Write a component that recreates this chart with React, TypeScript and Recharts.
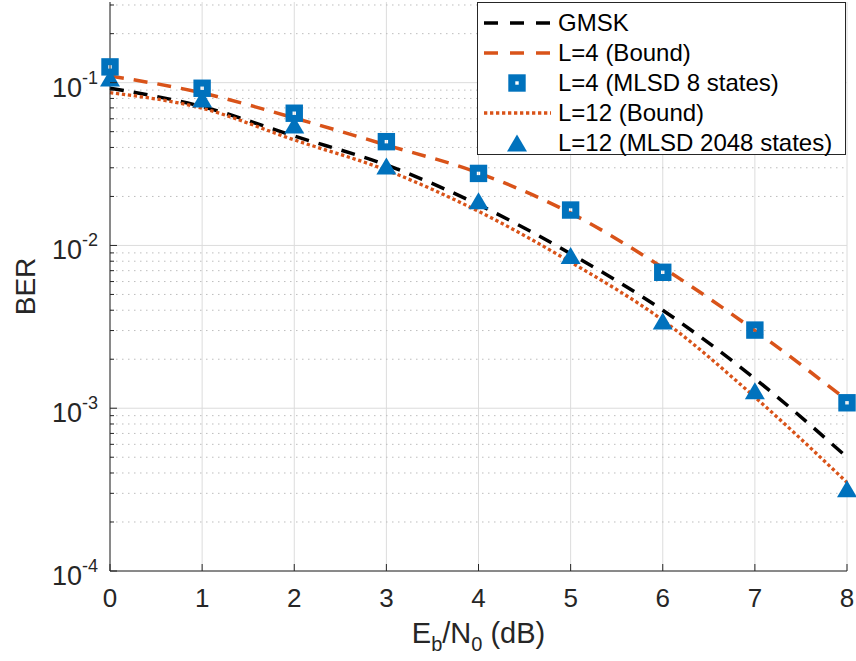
import {
  CartesianGrid,
  Legend,
  Line,
  LineChart,
  ReferenceLine,
  XAxis,
  YAxis,
} from "recharts";

const ebn0 = [0, 1, 2, 3, 4, 5, 6, 7, 8];
const gmsk = [0.0924, 0.0713, 0.047, 0.0312, 0.0178, 0.0089, 0.004, 0.00152, 0.0005];
const l4Bound = [0.11, 0.0865, 0.0607, 0.0414, 0.0279, 0.0158, 0.0073, 0.003, 0.00112];
const l4Mlsd = [0.125, 0.0924, 0.0649, 0.0434, 0.0277, 0.0165, 0.00684, 0.00302, 0.00108];
const l12Bound = [0.0868, 0.0696, 0.0445, 0.029, 0.0162, 0.0079, 0.00347, 0.00117, 0.00035];
const l12Mlsd = [0.107, 0.0794, 0.0549, 0.0308, 0.0188, 0.00867, 0.00343, 0.00128, 0.00032];

const xTicks = [0, 1, 2, 3, 4, 5, 6, 7, 8];
const decades = [1e-4, 1e-3, 1e-2, 1e-1];
const decadeExp = ["-4", "-3", "-2", "-1"];
const minorTicks = [
  2e-4, 3e-4, 4e-4, 5e-4, 6e-4, 7e-4, 8e-4, 9e-4,
  2e-3, 3e-3, 4e-3, 5e-3, 6e-3, 7e-3, 8e-3, 9e-3,
  2e-2, 3e-2, 4e-2, 5e-2, 6e-2, 7e-2, 8e-2, 9e-2,
  2e-1, 3e-1,
];
const yTicks = [...decades, ...minorTicks];

const legendNames = [
  "GMSK",
  "L=4 (Bound)",
  "L=4 (MLSD 8 states)",
  "L=12 (Bound)",
  "L=12 (MLSD 2048 states)",
];

const rows = ebn0.map((x, i) => ({
  x,
  gmsk: gmsk[i],
  l4Bound: l4Bound[i],
  l4Mlsd: l4Mlsd[i],
  l12Bound: l12Bound[i],
  l12Mlsd: l12Mlsd[i],
}));

const FONT = "'Liberation Sans', Arial, Helvetica, sans-serif";
const AXIS = "#262626";
const BLUE = "#0072BD";
const ORANGE = "#D95319";

const isMajor = (v: number) => decades.some((d) => Math.abs(d - v) / d < 1e-6);

function LeftTick(props: any) {
  const { x, y, payload } = props;
  const v = payload.value;
  const major = isMajor(v);
  const idx = decades.findIndex((d) => Math.abs(d - v) / d < 1e-6);
  return (
    <g>
      <line x1={x} x2={x + (major ? 7 : 4)} y1={y} y2={y} stroke={AXIS} strokeWidth={1} />
      {major && (
        <text x={x - 12} y={y + 14} textAnchor="end" fill={AXIS} fontFamily={FONT} fontSize={27}>
          <tspan>10</tspan>
          <tspan dy={-13} fontSize={18}>{decadeExp[idx]}</tspan>
        </text>
      )}
    </g>
  );
}

function RightTick(props: any) {
  const { x, y, payload } = props;
  const major = isMajor(payload.value);
  return <line x1={x} x2={x - (major ? 7 : 4)} y1={y} y2={y} stroke={AXIS} strokeWidth={1} />;
}

function BottomTick(props: any) {
  const { x, y, payload } = props;
  return (
    <g>
      <line x1={x} x2={x} y1={y} y2={y - 7} stroke={AXIS} strokeWidth={1} />
      <text x={x} y={y + 36} textAnchor="middle" fill={AXIS} fontFamily={FONT} fontSize={26}>
        {payload.value}
      </text>
    </g>
  );
}

function TopTick(props: any) {
  const { x, y } = props;
  return <line x1={x} x2={x} y1={y} y2={y + 7} stroke={AXIS} strokeWidth={1} />;
}

function XTitle(props: any) {
  const vb = props.viewBox || { x: 110, y: 571, width: 738 };
  return (
    <text x={vb.x + vb.width / 2} y={vb.y + 72} textAnchor="middle" fill={AXIS} fontFamily={FONT} fontSize={29}>
      <tspan>E</tspan>
      <tspan dy={8} fontSize={20}>b</tspan>
      <tspan dy={-8}>/N</tspan>
      <tspan dy={8} fontSize={20}>0</tspan>
      <tspan dy={-8}> (dB)</tspan>
    </text>
  );
}

function YTitle(props: any) {
  const vb = props.viewBox || { x: 0, y: 2, height: 569 };
  const cx = 35;
  const cy = vb.y + vb.height / 2;
  return (
    <text
      x={cx}
      y={cy}
      transform={`rotate(-90, ${cx}, ${cy})`}
      textAnchor="middle"
      fill={AXIS}
      fontFamily={FONT}
      fontSize={28}
    >
      BER
    </text>
  );
}

function SquareDot(props: any) {
  const { cx, cy } = props;
  if (cx == null || cy == null) return null;
  return <rect x={cx - 5.2} y={cy - 5.2} width={10.4} height={10.4} fill="none" stroke={BLUE} strokeWidth={7} />;
}

function TriangleDot(props: any) {
  const { cx, cy } = props;
  if (cx == null || cy == null) return null;
  return <polygon points={`${cx},${cy - 8.5} ${cx - 10},${cy + 8.5} ${cx + 10},${cy + 8.5}`} fill={BLUE} />;
}

function LegendBox() {
  const rowY = (i: number) => 21 + i * 30;
  return (
    <svg width={370} height={154} style={{ display: "block" }}>
      <rect x={0.5} y={0.5} width={368} height={152} fill="#fff" stroke={AXIS} strokeWidth={1} />
      <line x1={7} x2={74} y1={rowY(0)} y2={rowY(0)} stroke="#000" strokeWidth={3.5} strokeDasharray="14 12" />
      <line x1={7} x2={74} y1={rowY(1)} y2={rowY(1)} stroke={ORANGE} strokeWidth={3.5} strokeDasharray="14 12" />
      <SquareDot cx={40} cy={rowY(2)} />
      <line x1={7} x2={74} y1={rowY(3)} y2={rowY(3)} stroke={ORANGE} strokeWidth={3.3} strokeDasharray="3.3 2.7" />
      <TriangleDot cx={40} cy={rowY(4)} />
      {legendNames.map((n, i) => (
        <text key={n} x={81} y={rowY(i) + 8} fill="#000" fontFamily={FONT} fontSize={24}>
          {n}
        </text>
      ))}
    </svg>
  );
}

export default function App() {
  return (
    <div style={{ position: "absolute", left: 0, top: 0, width: 856, height: 661, background: "#fff" }}>
      <LineChart width={856} height={661} data={rows} margin={{ top: 2, right: 9, bottom: 0, left: 0 }}>
        <CartesianGrid horizontal={false} vertical stroke="#dcdcdc" strokeWidth={1} />
        {minorTicks.map((v) => (
          <ReferenceLine key={`m${v}`} y={v} stroke="#bdbdbd" strokeWidth={1} strokeDasharray="1.5 4.5" />
        ))}
        {decades.map((v) => (
          <ReferenceLine key={`d${v}`} y={v} stroke="#dcdcdc" strokeWidth={1} />
        ))}
        <XAxis
          dataKey="x"
          type="number"
          domain={[0, 8]}
          ticks={xTicks}
          height={90}
          tickSize={0}
          tickMargin={0}
          tickLine={false}
          tick={<BottomTick />}
          axisLine={{ stroke: AXIS, strokeWidth: 1 }}
          interval={0}
          label={<XTitle />}
        />
        <XAxis
          xAxisId="top"
          orientation="top"
          dataKey="x"
          type="number"
          domain={[0, 8]}
          ticks={xTicks}
          height={0}
          tickSize={0}
          tickMargin={0}
          tickLine={false}
          tick={<TopTick />}
          axisLine={{ stroke: AXIS, strokeWidth: 1 }}
          interval={0}
        />
        <YAxis
          scale="log"
          type="number"
          domain={[1e-4, 0.313]}
          allowDataOverflow
          ticks={yTicks}
          width={110}
          tickSize={0}
          tickMargin={0}
          tickLine={false}
          tick={<LeftTick />}
          axisLine={{ stroke: AXIS, strokeWidth: 1 }}
          interval={0}
          label={<YTitle />}
        />
        <YAxis
          yAxisId="right"
          orientation="right"
          scale="log"
          type="number"
          domain={[1e-4, 0.313]}
          allowDataOverflow
          ticks={yTicks}
          width={0}
          tickSize={0}
          tickMargin={0}
          tickLine={false}
          tick={<RightTick />}
          axisLine={{ stroke: AXIS, strokeWidth: 1 }}
          interval={0}
        />
        <Line
          dataKey="gmsk"
          type="monotone"
          stroke="#000"
          strokeWidth={3.5}
          strokeDasharray="14 10"
          dot={false}
          isAnimationActive={false}
        />
        <Line
          dataKey="l4Bound"
          type="monotone"
          stroke={ORANGE}
          strokeWidth={3.5}
          strokeDasharray="14 10"
          dot={false}
          isAnimationActive={false}
        />
        <Line
          dataKey="l4Mlsd"
          stroke="none"
          dot={<SquareDot />}
          activeDot={false}
          isAnimationActive={false}
        />
        <Line
          dataKey="l12Bound"
          type="monotone"
          stroke={ORANGE}
          strokeWidth={3.3}
          strokeDasharray="3.3 2.7"
          dot={false}
          isAnimationActive={false}
        />
        <Line
          dataKey="l12Mlsd"
          stroke="none"
          dot={<TriangleDot />}
          activeDot={false}
          isAnimationActive={false}
        />
        <Legend
          layout="vertical"
          align="center"
          verticalAlign="middle"
          content={<LegendBox />}
          wrapperStyle={{ position: "absolute", left: 477, top: 2, width: 370, height: 154 }}
        />
      </LineChart>
    </div>
  );
}
